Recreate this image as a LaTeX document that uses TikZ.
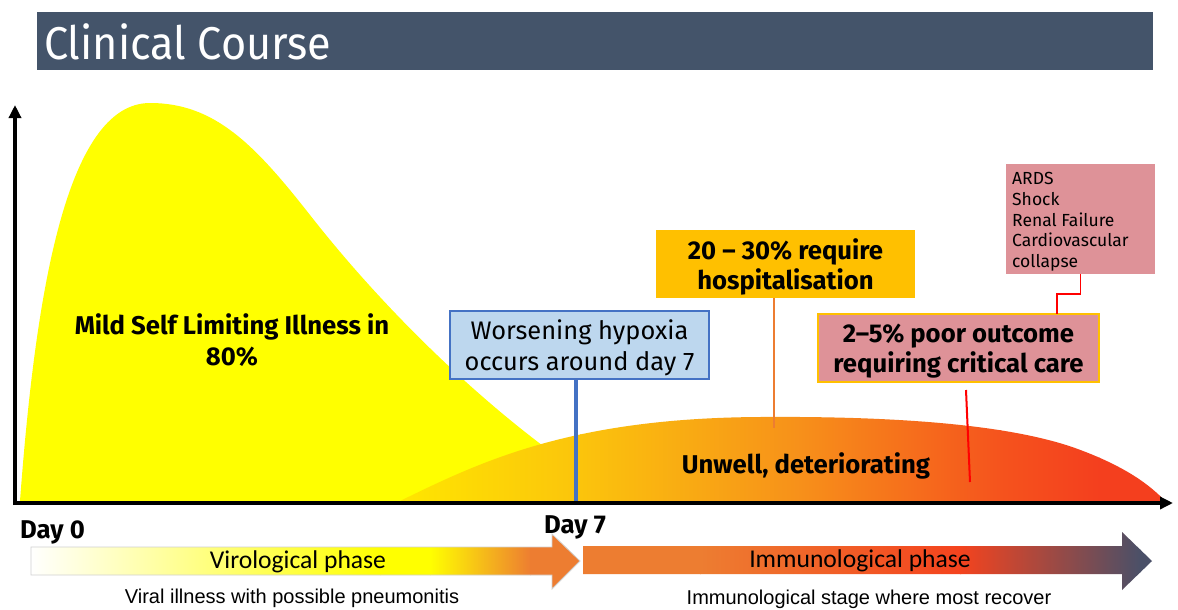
\documentclass[tikz,border=0pt]{standalone}
\usepackage{fontspec}
\setmainfont{Fira Sans}
\newfontfamily\titlefont{Fira Sans}[FakeStretch=0.94]
\newfontfamily\calib{Carlito}
\newfontfamily\arialf{Liberation Sans}
\usetikzlibrary{arrows.meta,calc}
\definecolor{titlebg}{HTML}{44546A}
\definecolor{yellowc}{HTML}{FFFF00}
\definecolor{bluefill}{HTML}{BDD7EE}
\definecolor{blueline}{HTML}{4472C4}
\definecolor{gold}{HTML}{FFC000}
\definecolor{pinkc}{RGB}{222,146,152}
\definecolor{orangel}{HTML}{ED7D31}
\definecolor{hA}{HTML}{FFE600}
\definecolor{hB}{HTML}{FBC40C}
\definecolor{hC}{HTML}{F7901A}
\definecolor{hD}{HTML}{F5531D}
\definecolor{hE}{HTML}{F43F1E}
\definecolor{iB}{HTML}{F4431E}
\definecolor{iC}{HTML}{4A5068}
\tikzset{
  boldtxt/.style={font=\bfseries\fontsize{25.7}{30.5}\selectfont, align=center},
  box/.style={inner sep=0pt, align=center},
  axisline/.style={line width=4pt, -{Triangle[length=13pt,width=12pt]}},
}
\begin{document}
\begin{tikzpicture}[x=1pt,y=-1pt]
\useasboundingbox (0,0) rectangle (1178,610);
\fill[white] (0,0) rectangle (1178,610);
% title
\node[fill=titlebg, minimum width=1116pt, minimum height=58pt, anchor=north west, inner sep=0pt] (title) at (37,12) {};
\node[anchor=west, text=white, inner sep=0pt, font=\titlefont\fontsize{46}{46}\selectfont] (titletext) at (44,42) {Clinical Course};
% yellow hump
\fill[yellowc] (20,501) .. controls (35,300) and (65,103) .. (150,103) .. controls (215,103) and (255,145) .. (310,215) .. controls (400,330) and (520,440) .. (625,501) -- cycle;
% orange hump
\begin{scope}
\clip (400,501) .. controls (480,462) and (570,418) .. (760,417) .. controls (900,416) and (1010,425) .. (1075,448) .. controls (1125,466) and (1150,485) .. (1165,501) -- cycle;
\shade[left color=hA, right color=hB] (399,410) rectangle (581,505);
\shade[left color=hB, right color=hC] (580,410) rectangle (801,505);
\shade[left color=hC, right color=hD] (800,410) rectangle (1001,505);
\shade[left color=hD, right color=hE] (1000,410) rectangle (1100,505);
\fill[hE] (1099,410) rectangle (1170,505);
\end{scope}
% axes
\coordinate (origin) at (15,503);
\coordinate (ytop) at (15,105);
\coordinate (xend) at (1173,503);
\draw[axisline] ($(origin)+(0,2)$) -- (ytop);
\draw[axisline] ($(origin)+(-2,0)$) -- (xend);
% boxes
\node[box, fill=bluefill, draw=blueline, line width=1.2pt, minimum width=259pt, minimum height=68pt] (blue) at (579.5,345) {};
\node[box, font=\fontsize{25.4}{30.5}\selectfont] (bluetext) at ($(blue.center)+(0,3)$) {Worsening hypoxia\\occurs around day 7};
\node[box, fill=gold, minimum width=259pt, minimum height=68pt] (hosp) at (785.5,264) {};
\node[box, boldtxt] (hosptext) at ($(hosp.center)+(0,3)$) {20 -- 30\% require\\hospitalisation};
\node[box, fill=pinkc, draw=gold, line width=1.2pt, minimum width=281pt, minimum height=68pt] (crit) at (958.5,348) {};
\node[box, boldtxt] (crittext) at ($(crit.center)+(0,3)$) {2--5\% poor outcome\\requiring critical care};
\node[fill=pinkc, minimum width=149pt, minimum height=110pt, inner sep=0pt] (ards) at (1080.5,219) {};
\node[anchor=north west, inner sep=0pt, align=left, font=\fontsize{17.5}{20.8}\selectfont] (ardstext) at (1012,172) {ARDS\\Shock\\Renal Failure\\Cardiovascular\\collapse};
% connectors
\coordinate (d7) at (576,501);
\draw[blueline, line width=4pt] (d7 |- blue.south) -- (d7);
\coordinate (hospend) at (774,428);
\draw[orangel, line width=2pt] (hospend |- hosp.south) -- (hospend);
\coordinate (redtop) at (966,390);
\coordinate (redbot) at (970,482);
\draw[red, line width=2pt] (redtop) -- (redbot);
\coordinate (crittop) at (1057,314);
\draw[red, line width=1.6pt] (ards.south) -- ++(0,19.5) -| (crittop);
% text labels
\node[boldtxt, inner sep=0pt] (mild) at (232,340) {Mild Self Limiting Illness in\\80\%};
\node[boldtxt, inner sep=0pt] (unwell) at (806,466) {Unwell, deteriorating};
\node[boldtxt, inner sep=0pt, anchor=west] (day0) at (20,532) {Day 0};
\node[boldtxt, inner sep=0pt, anchor=west] (day7) at (544,527) {Day 7};
% virological arrow
\begin{scope}
\clip (31,547) -- (552,547) -- (552,534) -- (580,561) -- (552,589) -- (552,575) -- (31,575) -- cycle;
\shade[left color=white, right color=yellowc] (30,530) rectangle (381,592);
\fill[yellowc] (380,530) rectangle (431,592);
\shade[left color=yellowc, right color=orangel] (430,530) rectangle (531,592);
\fill[orangel] (530,530) rectangle (582,592);
\end{scope}
\draw[black!18, line width=0.8pt] (31,547) -- (552,547) -- (552,534) -- (580,561) -- (552,589) -- (552,575) -- (31,575) -- cycle;
\node[font=\calib\fontsize{25.6}{28}\selectfont, inner sep=0pt] (viro) at (298,562) {Virological phase};
% immunological arrow
\begin{scope}
\clip (583,546) -- (1122,546) -- (1122,532) -- (1152,561) -- (1122,590) -- (1122,574) -- (583,574) -- cycle;
\fill[orangel] (582,530) rectangle (701,592);
\shade[left color=orangel, right color=iB] (700,530) rectangle (961,592);
\shade[left color=iB, right color=iC] (960,530) rectangle (1141,592);
\fill[iC] (1140,530) rectangle (1155,592);
\end{scope}
\node[font=\calib\fontsize{25.6}{28}\selectfont, inner sep=0pt] (immu) at (860,561) {Immunological phase};
% captions
\node[font=\arialf\fontsize{20}{22}\selectfont, inner sep=0pt] (viralcap) at (292,598) {Viral illness with possible pneumonitis};
\node[font=\arialf\fontsize{20}{22}\selectfont, inner sep=0pt] (immucap) at (869,599) {Immunological stage where most recover};
\end{tikzpicture}
\end{document}
